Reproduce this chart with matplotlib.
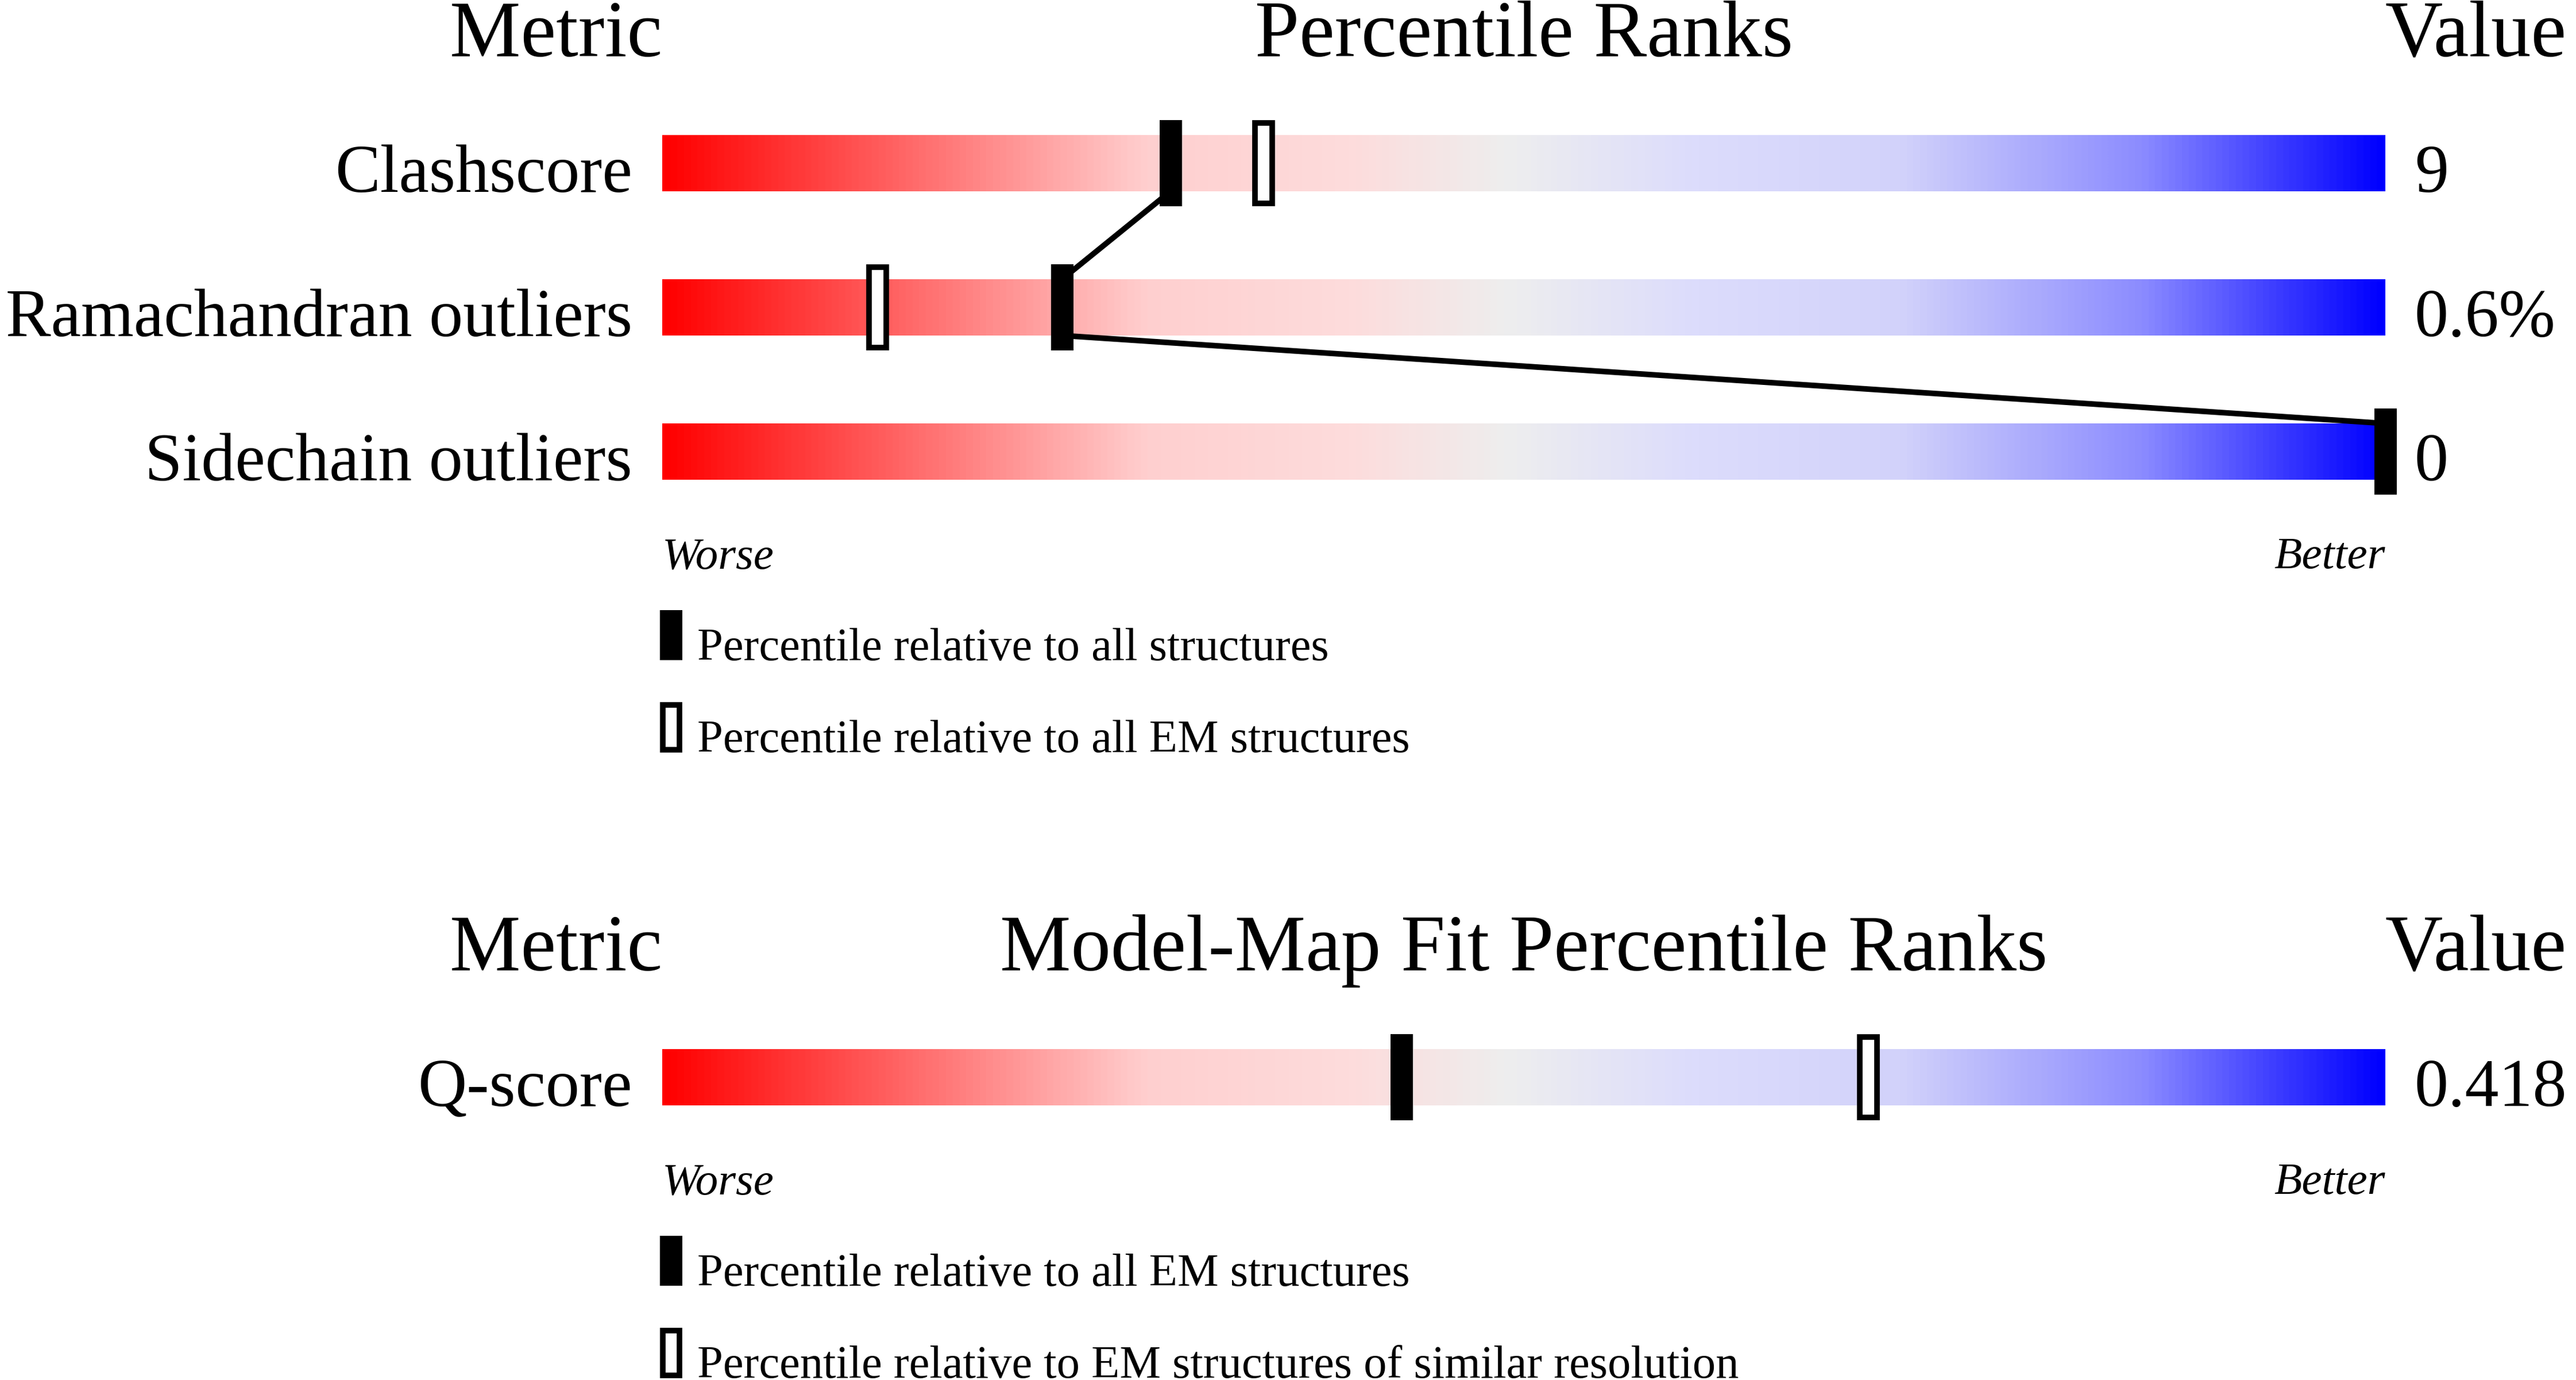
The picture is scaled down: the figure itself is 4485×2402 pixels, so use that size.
import numpy as np
import matplotlib
matplotlib.use('Agg')
import matplotlib.pyplot as plt
from matplotlib.colors import LinearSegmentedColormap

# data
geomMetrics = ['Clashscore', 'Ramachandran outliers', 'Sidechain outliers']
geomValues = ['9', '0.6%', '0']
geomPctAll = [29.5, 23.2, 100.0]
geomPctEM = [34.9, 12.5, np.nan]
geomLegend = ['Percentile relative to all structures',
              'Percentile relative to all EM structures']

fitMetrics = ['Q-score']
fitValues = ['0.418']
fitPctAll = [42.9]
fitPctSimilar = [70.0]
fitLegend = ['Percentile relative to all EM structures',
             'Percentile relative to EM structures of similar resolution']

# slider colours, red (worse) to blue (better)
sliderCmap = LinearSegmentedColormap.from_list('slider', [
    (0.00, '#ff0000'),
    (0.28, '#ffcfcf'),
    (0.40, '#fddcdc'),
    (0.49, '#eeeeee'),
    (0.60, '#dcdcfc'),
    (0.72, '#d2d2fa'),
    (0.86, '#8c8cff'),
    (1.00, '#0000ff'),
])

plt.rcParams['font.family'] = ['Liberation Serif', 'DejaVu Serif']

W, H = 4485, 2402
fig = plt.figure(figsize=(W / 100, H / 100), dpi=100)
fig.patch.set_facecolor('white')

BAR_H = 0.39
MARK_W, MARK_H = 1.3, 0.6
EDGE = 7.0  # points
edge_x = 9.7 / 30.0
edge_y = 9.7 / 251.0


def axesFromPixels(left, top, width, height):
    return fig.add_axes([left / W, 1 - (top + height) / H, width / W, height / H])


def drawPanel(ax, title, metrics, values, pctFilled, pctOpen, legendLabels):
    n = len(metrics)
    rows = np.arange(n)
    grad = np.linspace(0, 1, 512).reshape(1, -1)
    for r in rows:
        ax.imshow(grad, cmap=sliderCmap, aspect='auto', interpolation='bilinear',
                  extent=(0, 100, r + BAR_H / 2, r - BAR_H / 2), zorder=1)

    # connecting lines between filled markers
    for i in range(n - 1):
        ax.plot([pctFilled[i], pctFilled[i + 1]],
                [rows[i] + BAR_H / 2, rows[i + 1] - BAR_H / 2],
                color='black', lw=7.0, zorder=2, solid_capstyle='butt',
                clip_on=False)

    for r, p in zip(rows, pctOpen):
        if np.isnan(p):
            continue
        h = MARK_H - edge_y
        ax.bar(p, h, width=MARK_W - edge_x, bottom=r - h / 2, color='white',
               edgecolor='black', linewidth=EDGE, zorder=3, clip_on=False)
    ax.bar(pctFilled, MARK_H, width=MARK_W, bottom=rows - MARK_H / 2,
           color='black', linewidth=0, zorder=4, clip_on=False)

    for r, label, val in zip(rows, metrics, values):
        ax.text(-1.73, r + 0.2, label, ha='right', va='baseline', fontsize=85,
                clip_on=False)
        ax.text(101.7, r + 0.2, val, ha='left', va='baseline', fontsize=85,
                clip_on=False)

    hy = -0.74
    ax.text(0, hy, 'Metric', ha='right', va='baseline', fontsize=100, clip_on=False)
    ax.text(50, hy, title, ha='center', va='baseline', fontsize=100, clip_on=False)
    ax.text(100, hy, 'Value', ha='left', va='baseline', fontsize=100, clip_on=False)

    last = n - 1
    ax.text(0, last + 0.81, 'Worse', ha='left', va='baseline', fontsize=57,
            style='italic', clip_on=False)
    ax.text(100, last + 0.81, 'Better', ha='right', va='baseline', fontsize=57,
            style='italic', clip_on=False)

    # legend
    lh = 0.347
    c1 = last + 1.273
    c2 = last + 1.912
    ax.bar(0.52, lh, width=1.3, bottom=c1 - lh / 2, color='black', linewidth=0,
           clip_on=False)
    ax.bar(0.52, lh - edge_y, width=1.3 - edge_x, bottom=c2 - (lh - edge_y) / 2,
           color='white', edgecolor='black', linewidth=EDGE, clip_on=False)
    ax.text(2.03, c1 + lh / 2, legendLabels[0], ha='left', va='baseline',
            fontsize=58, clip_on=False)
    ax.text(2.03, c2 + lh / 2, legendLabels[1], ha='left', va='baseline',
            fontsize=58, clip_on=False)

    ax.set_xlim(0, 100)
    ax.set_ylim(n - 0.5, -0.5)
    ax.axis('off')


rowPx = 251
axTop = axesFromPixels(1153, 284 - rowPx / 2, 3000, rowPx * len(geomMetrics))
drawPanel(axTop, 'Percentile Ranks', geomMetrics, geomValues, geomPctAll,
          geomPctEM, geomLegend)

axBottom = axesFromPixels(1153, 1875 - rowPx / 2, 3000, rowPx * len(fitMetrics))
drawPanel(axBottom, 'Model-Map Fit Percentile Ranks', fitMetrics, fitValues,
          fitPctAll, fitPctSimilar, fitLegend)

fig.savefig('out.png', dpi=100, facecolor='white')
